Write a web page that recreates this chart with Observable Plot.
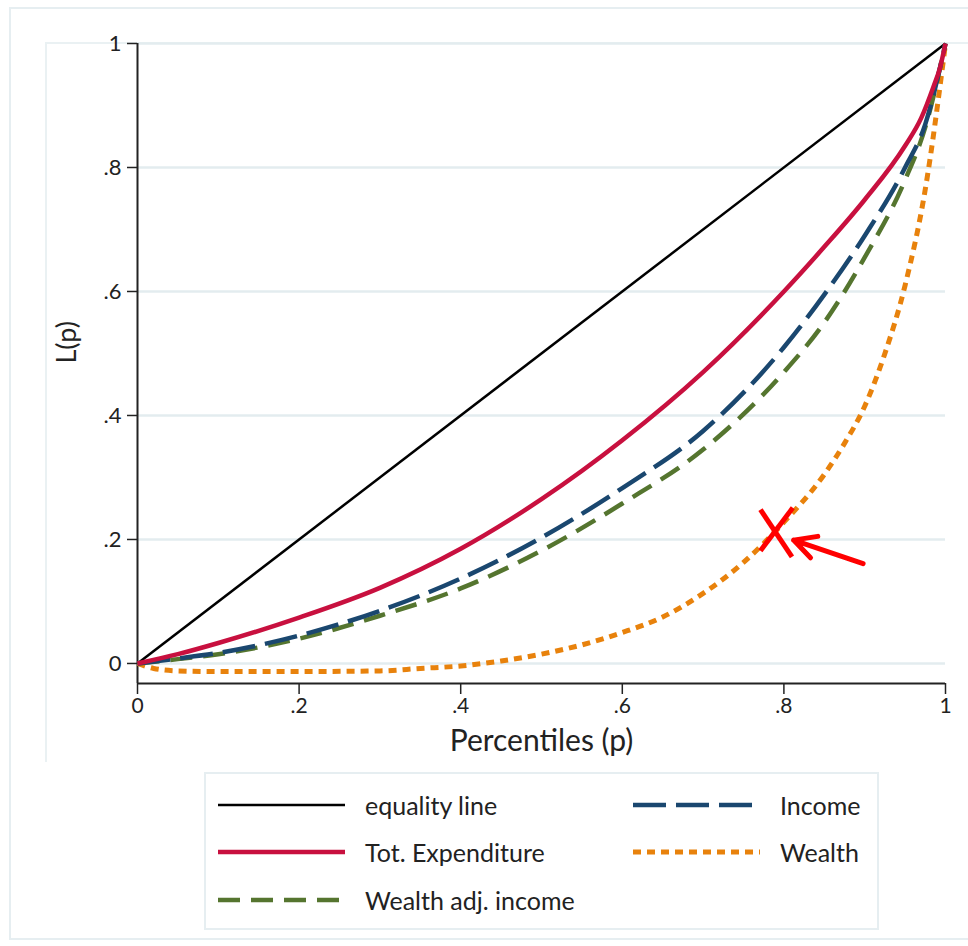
<!DOCTYPE html>
<html><head><meta charset="utf-8">
<script src="https://cdn.jsdelivr.net/npm/d3@7"></script>
<script src="https://cdn.jsdelivr.net/npm/@observablehq/plot@0.6"></script>
<style>
body{margin:0;background:#fff;font-family:Lato,"Open Sans",sans-serif;}
#wrap{position:relative;width:968px;height:946px;overflow:hidden;background:#fff;}
#frame{position:absolute;left:9px;top:7px;width:970px;height:933px;border:2px solid #e6eef1;box-sizing:border-box;}
#inner{position:absolute;left:45px;top:42px;width:960px;height:720px;border-left:2px solid #eaf1f3;border-top:2px solid #eaf1f3;box-sizing:border-box;}
#chart{position:absolute;left:0;top:0;}
#legend{position:absolute;left:204px;top:772px;width:675px;height:158px;border:2px solid #e6eef1;box-sizing:border-box;background:#fff;}
.item{position:absolute;display:flex;align-items:center;font-size:25px;color:#222;white-space:nowrap;}
.item svg{margin-right:19px;}
</style></head><body>
<div id="wrap"><div id="frame"></div><div id="inner"></div><div id="chart"></div><div id="legend"></div></div>
<script>
// ---- data ----
const ticks = [0, 0.2, 0.4, 0.6, 0.8, 1];
const tickLabels = ["0", ".2", ".4", ".6", ".8", "1"];
const yMin = -0.0323;

const pEquality = [0, 1];
const lEquality = [0, 1];

const pExpenditure = [0, 0.05, 0.1, 0.2, 0.3, 0.4, 0.5, 0.6, 0.7, 0.8, 0.85, 0.9, 0.95, 0.97, 0.985, 0.993, 1];
const lExpenditure = [0, 0.015, 0.033, 0.074, 0.122, 0.185, 0.265, 0.36, 0.47, 0.6, 0.672, 0.748, 0.835, 0.88, 0.93, 0.96, 1];

const pIncome = [0, 0.05, 0.1, 0.2, 0.3, 0.4, 0.5, 0.6, 0.7, 0.8, 0.85, 0.9, 0.95, 0.975, 1];
const lIncome = [0, 0.008, 0.017, 0.045, 0.085, 0.137, 0.203, 0.283, 0.375, 0.51, 0.595, 0.69, 0.80, 0.87, 1];

const pWealthAdj = [0, 0.05, 0.1, 0.2, 0.3, 0.4, 0.5, 0.6, 0.7, 0.8, 0.85, 0.9, 0.95, 0.975, 1];
const lWealthAdj = [0, 0.007, 0.015, 0.04, 0.077, 0.121, 0.182, 0.258, 0.345, 0.47, 0.55, 0.655, 0.78, 0.865, 1];

const pWealth = [0, 0.02, 0.05, 0.1, 0.2, 0.3, 0.35, 0.4, 0.45, 0.5, 0.55, 0.6, 0.65, 0.7, 0.75, 0.8, 0.85, 0.875, 0.9, 0.925, 0.95, 0.975, 1];
const lWealth = [0, -0.008, -0.012, -0.013, -0.013, -0.012, -0.008, -0.004, 0.004, 0.015, 0.03, 0.05, 0.075, 0.113, 0.163, 0.228, 0.305, 0.355, 0.415, 0.5, 0.61, 0.765, 1];

const seriesNames = ["equality line", "Tot. Expenditure", "Wealth adj. income", "Income", "Wealth"];
const seriesColors = ["#000000", "#c8103f", "#55752f", "#1a476f", "#e8820c"];
const seriesWidths = [2.5, 4.5, 4.5, 4.5, 5];
const seriesDash = [null, null, "22,11", "33,10", "8,6"];

// annotation (red X and arrow)
const markX1 = [0.771, 0.811];
const markY1 = [0.248, 0.251];
const markX2 = [0.810, 0.771];
const markY2 = [0.172, 0.182];
const arrowFrom = [0.898, 0.161];
const arrowTo = [0.812, 0.199];

// ---- build ----
const seriesData = [
  [pEquality, lEquality], [pExpenditure, lExpenditure], [pWealthAdj, lWealthAdj],
  [pIncome, lIncome], [pWealth, lWealth]
];
const drawOrder = [0, 4, 2, 3, 1];
const lineMarks = drawOrder.map(i => {
  const [p, l] = seriesData[i];
  const rows = p.map((x, k) => ({x, y: l[k]}));
  return Plot.line(rows, {
    x: "x", y: "y", stroke: seriesColors[i], strokeWidth: seriesWidths[i],
    strokeDasharray: seriesDash[i] || undefined, curve: i === 0 ? "linear" : "monotone-x",
    strokeLinecap: "butt"
  });
});
const fmt = d => tickLabels[ticks.indexOf(d)];

const chart = Plot.plot({
  width: 968, height: 760,
  marginLeft: 137, marginRight: 23, marginTop: 43, marginBottom: 77,
  x: {domain: [0, 1]},
  y: {domain: [yMin, 1]},
  style: {fontFamily: "Lato, 'Open Sans', sans-serif", background: "transparent", color: "#222"},
  marks: [
    Plot.gridY(ticks, {stroke: "#e3ecef", strokeOpacity: 1, strokeWidth: 2.5}),
    Plot.axisY(ticks, {tickFormat: fmt, tickSize: 10, tickPadding: 6, fontSize: 22, label: null, stroke: "#222", strokeWidth: 1.5}),
    Plot.axisX(ticks, {tickFormat: fmt, tickSize: 11, tickPadding: 4, fontSize: 21, label: null, stroke: "#222", strokeWidth: 1.5}),
    Plot.ruleX([0], {y1: yMin, y2: 1, stroke: "#222", strokeWidth: 2}),
    Plot.ruleY([yMin], {x1: 0, x2: 1, stroke: "#222", strokeWidth: 2}),
    ...lineMarks,
    Plot.link(markX1.map((v, i) => ({x1: v, y1: markY1[i], x2: markX2[i], y2: markY2[i]})),
      {x1: "x1", y1: "y1", x2: "x2", y2: "y2", stroke: "#ff0000", strokeWidth: 5}),
    Plot.arrow([{x1: arrowFrom[0], y1: arrowFrom[1], x2: arrowTo[0], y2: arrowTo[1]}],
      {x1: "x1", y1: "y1", x2: "x2", y2: "y2", stroke: "#ff0000", strokeWidth: 5, headLength: 24, headAngle: 55, bend: 0}),
    Plot.text(["Percentiles (p)"], {frameAnchor: "bottom", dy: 58, fontSize: 30, fill: "#222", lineAnchor: "middle"}),
    Plot.text(["L(p)"], {frameAnchor: "left", dx: -70, rotate: -90, fontSize: 27, fill: "#222"})
  ]
});
document.getElementById("chart").appendChild(chart);

// ---- legend ----
const legend = document.getElementById("legend");
const legendPos = [
  [12, 31], [12, 78], [12, 126], [427, 31], [427, 78]
];
seriesNames.forEach((name, i) => {
  const div = document.createElement("div");
  div.className = "item";
  div.style.left = legendPos[i][0] + "px";
  div.style.top = (legendPos[i][1] - 17) + "px";
  div.style.height = "34px";
  const ns = "http://www.w3.org/2000/svg";
  const svg = document.createElementNS(ns, "svg");
  svg.setAttribute("width", 128); svg.setAttribute("height", 12);
  const ln = document.createElementNS(ns, "line");
  ln.setAttribute("x1", 0); ln.setAttribute("x2", 127); ln.setAttribute("y1", 6); ln.setAttribute("y2", 6);
  ln.setAttribute("stroke", seriesColors[i]);
  ln.setAttribute("stroke-width", seriesWidths[i]);
  if (seriesDash[i]) ln.setAttribute("stroke-dasharray", seriesDash[i]);
  svg.appendChild(ln);
  div.appendChild(svg);
  const t = document.createElement("span");
  t.textContent = name;
  div.appendChild(t);
  legend.appendChild(div);
});
</script>
</body></html>
